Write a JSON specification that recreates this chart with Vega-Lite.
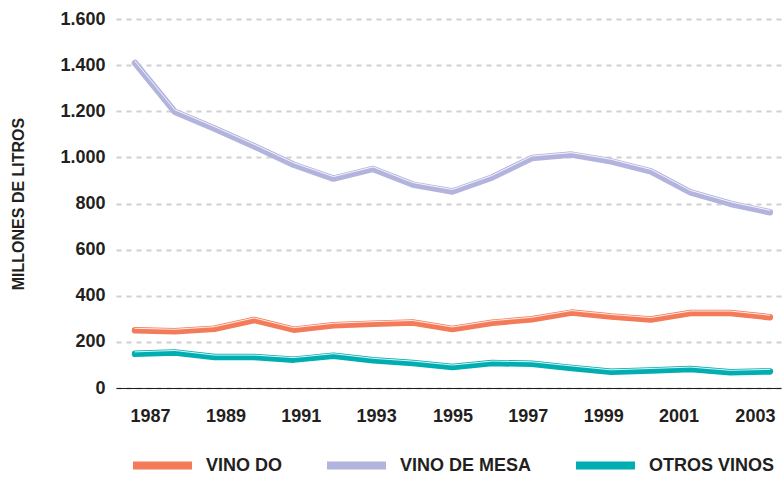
{
  "$schema": "https://vega.github.io/schema/vega-lite/v6.json",
  "width": 665,
  "height": 369,
  "autosize": {"type": "none"},
  "padding": {"left": 116, "top": 19, "right": 3, "bottom": 94},
  "background": "white",
  "config": {
    "view": {"stroke": null},
    "font": "Liberation Sans",
    "axis": {"labelFont": "Liberation Sans", "labelFontWeight": "bold", "labelColor": "#231f20", "titleColor": "#231f20"},
    "legend": {"labelFont": "Liberation Sans"}
  },
  "data": {
    "values": [
      {"year": 1987, "serie": "VINO DO", "value": 250},
      {"year": 1988, "serie": "VINO DO", "value": 246},
      {"year": 1989, "serie": "VINO DO", "value": 257},
      {"year": 1990, "serie": "VINO DO", "value": 295},
      {"year": 1991, "serie": "VINO DO", "value": 253},
      {"year": 1992, "serie": "VINO DO", "value": 272},
      {"year": 1993, "serie": "VINO DO", "value": 279},
      {"year": 1994, "serie": "VINO DO", "value": 284},
      {"year": 1995, "serie": "VINO DO", "value": 256},
      {"year": 1996, "serie": "VINO DO", "value": 283},
      {"year": 1997, "serie": "VINO DO", "value": 298},
      {"year": 1998, "serie": "VINO DO", "value": 327},
      {"year": 1999, "serie": "VINO DO", "value": 310},
      {"year": 2000, "serie": "VINO DO", "value": 297},
      {"year": 2001, "serie": "VINO DO", "value": 325},
      {"year": 2002, "serie": "VINO DO", "value": 325},
      {"year": 2003, "serie": "VINO DO", "value": 307},
      {"year": 1987, "serie": "VINO DE MESA", "value": 1409},
      {"year": 1988, "serie": "VINO DE MESA", "value": 1198},
      {"year": 1989, "serie": "VINO DE MESA", "value": 1125},
      {"year": 1990, "serie": "VINO DE MESA", "value": 1048},
      {"year": 1991, "serie": "VINO DE MESA", "value": 968},
      {"year": 1992, "serie": "VINO DE MESA", "value": 908},
      {"year": 1993, "serie": "VINO DE MESA", "value": 950},
      {"year": 1994, "serie": "VINO DE MESA", "value": 882},
      {"year": 1995, "serie": "VINO DE MESA", "value": 852},
      {"year": 1996, "serie": "VINO DE MESA", "value": 913},
      {"year": 1997, "serie": "VINO DE MESA", "value": 997},
      {"year": 1998, "serie": "VINO DE MESA", "value": 1012},
      {"year": 1999, "serie": "VINO DE MESA", "value": 983},
      {"year": 2000, "serie": "VINO DE MESA", "value": 939},
      {"year": 2001, "serie": "VINO DE MESA", "value": 848},
      {"year": 2002, "serie": "VINO DE MESA", "value": 799},
      {"year": 2003, "serie": "VINO DE MESA", "value": 762},
      {"year": 1987, "serie": "OTROS VINOS", "value": 148},
      {"year": 1988, "serie": "OTROS VINOS", "value": 154},
      {"year": 1989, "serie": "OTROS VINOS", "value": 134},
      {"year": 1990, "serie": "OTROS VINOS", "value": 134},
      {"year": 1991, "serie": "OTROS VINOS", "value": 123},
      {"year": 1992, "serie": "OTROS VINOS", "value": 140},
      {"year": 1993, "serie": "OTROS VINOS", "value": 120},
      {"year": 1994, "serie": "OTROS VINOS", "value": 108},
      {"year": 1995, "serie": "OTROS VINOS", "value": 91},
      {"year": 1996, "serie": "OTROS VINOS", "value": 108},
      {"year": 1997, "serie": "OTROS VINOS", "value": 105},
      {"year": 1998, "serie": "OTROS VINOS", "value": 87},
      {"year": 1999, "serie": "OTROS VINOS", "value": 70},
      {"year": 2000, "serie": "OTROS VINOS", "value": 76},
      {"year": 2001, "serie": "OTROS VINOS", "value": 82},
      {"year": 2002, "serie": "OTROS VINOS", "value": 68},
      {"year": 2003, "serie": "OTROS VINOS", "value": 72}
    ]
  },
  "encoding": {
    "x": {
      "field": "year",
      "type": "quantitative",
      "scale": {"domain": [1986.52, 2003.28], "nice": false, "zero": false},
      "axis": {
        "values": [1987, 1989, 1991, 1993, 1995, 1997, 1999, 2001, 2003],
        "format": "d",
        "title": null,
        "grid": false,
        "ticks": false,
        "domainColor": "#231f20",
        "domainWidth": 1.2,
        "labelFontSize": 18,
        "labelPadding": 19,
        "labelBaseline": "top",
        "labelOffset": {
          "condition": [
            {"test": "datum.value == 1987", "value": 15},
            {"test": "datum.value == 1989", "value": 11},
            {"test": "datum.value == 1991", "value": 7},
            {"test": "datum.value == 1993", "value": 3},
            {"test": "datum.value == 1997", "value": -4},
            {"test": "datum.value == 1999", "value": -8},
            {"test": "datum.value == 2001", "value": -12},
            {"test": "datum.value == 2003", "value": -15}
          ],
          "value": 0
        }
      }
    },
    "y": {
      "field": "value",
      "type": "quantitative",
      "scale": {"domain": [0, 1600], "nice": false},
      "axis": {
        "values": [0, 200, 400, 600, 800, 1000, 1200, 1400, 1600],
        "labelExpr": "replace(format(datum.value, ','), ',', '.')",
        "title": "MILLONES DE LITROS",
        "titleFont": "Liberation Sans",
        "titleFontSize": 16,
        "titleFontWeight": "bold",
        "titlePadding": 33,
        "domain": false,
        "ticks": false,
        "grid": true,
        "gridColor": "#d0d0d0",
        "gridWidth": 2,
        "gridDash": [5, 5],
        "labelFontSize": 18,
        "labelPadding": 11
      }
    }
  },
  "layer": [
    {
      "mark": {"type": "line", "strokeWidth": 6.5, "strokeCap": "round", "strokeJoin": "round"},
      "encoding": {
        "color": {
          "field": "serie",
          "type": "nominal",
          "scale": {"domain": ["VINO DO", "VINO DE MESA", "OTROS VINOS"], "range": ["#f47b59", "#b2b4dd", "#00aeb2"]},
          "legend": {
            "title": null,
            "orient": "none",
            "direction": "horizontal",
            "columns": 3,
            "legendX": 13,
            "legendY": 413,
            "symbolType": "stroke",
            "symbolSize": 3481,
            "symbolStrokeWidth": 8,
            "labelFontSize": 18,
            "labelFontWeight": "bold",
            "labelColor": "#231f20",
            "labelOffset": 10,
            "columnPadding": 28,
            "gridAlign": "none",
            "labelLimit": 300
          }
        }
      }
    },
    {
      "mark": {"type": "line", "strokeWidth": 1, "color": "white", "opacity": 0.85, "yOffset": -2, "strokeCap": "round", "strokeJoin": "round"},
      "encoding": {"detail": {"field": "serie", "type": "nominal"}}
    }
  ]
}
